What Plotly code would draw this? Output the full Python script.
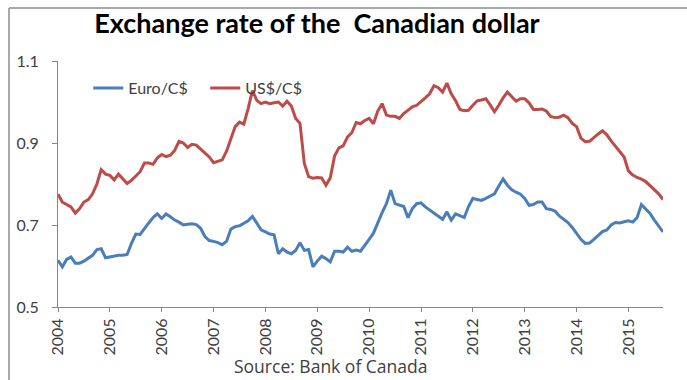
import plotly.graph_objects as go

# Monthly averages, January 2004 through September 2015
years = list(range(2004, 2016))
start_year = 2004

euro_per_cad = [
    # 2004
    0.614, 0.598, 0.616, 0.622, 0.607, 0.607, 0.612, 0.618, 0.626, 0.640, 0.642, 0.620,
    # 2005
    0.622, 0.624, 0.626, 0.626, 0.628, 0.655, 0.678, 0.677, 0.692, 0.705, 0.718, 0.727,
    # 2006
    0.716, 0.727, 0.720, 0.712, 0.707, 0.700, 0.702, 0.703, 0.701, 0.692, 0.672, 0.662,
    # 2007
    0.660, 0.657, 0.652, 0.660, 0.690, 0.696, 0.698, 0.703, 0.710, 0.721, 0.705, 0.688,
    # 2008
    0.683, 0.678, 0.676, 0.630, 0.642, 0.634, 0.630, 0.638, 0.657, 0.638, 0.640, 0.598,
    # 2009
    0.612, 0.624, 0.618, 0.610, 0.636, 0.636, 0.634, 0.646, 0.636, 0.639, 0.636, 0.652,
    # 2010
    0.665, 0.680, 0.706, 0.730, 0.752, 0.785, 0.752, 0.748, 0.745, 0.718, 0.740, 0.752,
    # 2011
    0.754, 0.744, 0.736, 0.729, 0.722, 0.714, 0.732, 0.712, 0.727, 0.722, 0.718, 0.745,
    # 2012
    0.765, 0.762, 0.760, 0.765, 0.770, 0.776, 0.795, 0.812, 0.797, 0.786, 0.780, 0.775,
    # 2013
    0.765, 0.748, 0.750, 0.756, 0.756, 0.740, 0.738, 0.734, 0.722, 0.714, 0.706, 0.694,
    # 2014
    0.680, 0.665, 0.655, 0.656, 0.665, 0.675, 0.684, 0.688, 0.700, 0.706, 0.705, 0.708,
    # 2015
    0.710, 0.707, 0.718, 0.750, 0.740, 0.728, 0.712, 0.697, 0.683,
]

usd_per_cad = [
    # 2004
    0.775, 0.756, 0.750, 0.744, 0.729, 0.740, 0.756, 0.762, 0.776, 0.800, 0.835, 0.824,
    # 2005
    0.821, 0.810, 0.824, 0.813, 0.801, 0.809, 0.820, 0.830, 0.851, 0.851, 0.848, 0.864,
    # 2006
    0.872, 0.867, 0.870, 0.882, 0.904, 0.900, 0.889, 0.897, 0.895, 0.886, 0.876, 0.866,
    # 2007
    0.852, 0.856, 0.859, 0.880, 0.910, 0.940, 0.951, 0.946, 0.984, 1.028, 1.004, 0.996,
    # 2008
    1.000, 0.996, 0.998, 1.000, 0.990, 1.002, 0.990, 0.960, 0.948, 0.850, 0.818, 0.814,
    # 2009
    0.816, 0.815, 0.797, 0.815, 0.868, 0.888, 0.893, 0.915, 0.925, 0.950, 0.947, 0.955,
    # 2010
    0.960, 0.947, 0.978, 0.996, 0.968, 0.965, 0.965, 0.960, 0.972, 0.981, 0.988, 0.992,
    # 2011
    1.000, 1.010, 1.020, 1.040, 1.035, 1.024, 1.046, 1.020, 1.003, 0.982, 0.979, 0.980,
    # 2012
    0.992, 1.003, 1.005, 1.008, 0.993, 0.976, 0.992, 1.010, 1.024, 1.012, 1.002, 1.008,
    # 2013
    1.008, 0.998, 0.982, 0.982, 0.983, 0.978, 0.965, 0.962, 0.963, 0.968, 0.962, 0.948,
    # 2014
    0.940, 0.912, 0.903, 0.904, 0.914, 0.922, 0.930, 0.920, 0.905, 0.891, 0.880, 0.866,
    # 2015
    0.832, 0.822, 0.816, 0.812, 0.806, 0.796, 0.788, 0.776, 0.762,
]

y_ticks = [0.5, 0.7, 0.9, 1.1]
y_tick_labels = ["0.5", "0.7", "0.9", "1.1"]

months = [start_year + i / 12 for i in range(len(usd_per_cad))]

FONT = "Lato"
TEXT_GREY = "#404040"
AXIS_GREY = "#868686"

fig = go.Figure()
fig.add_trace(go.Scatter(
    x=months, y=euro_per_cad, mode="lines", name="Euro/C$",
    line=dict(color="#4A7EBB", width=3),
))
fig.add_trace(go.Scatter(
    x=months, y=usd_per_cad, mode="lines", name="US$/C$",
    line=dict(color="#BE4B48", width=3),
))

fig.update_layout(
    width=687, height=380,
    margin=dict(l=58, r=24, t=61, b=73),
    paper_bgcolor="white", plot_bgcolor="white",
    font=dict(family=FONT, size=15, color=TEXT_GREY),
    title=dict(
        text="<b>Exchange rate of the\u00a0 Canadian dollar</b>",
        font=dict(family=FONT, size=27, color="black"),
        x=317 / 687, xanchor="center", xref="container",
        y=1 - 24 / 380, yanchor="middle", yref="container",
    ),
    showlegend=True,
    legend=dict(
        orientation="h", x=0.05, xanchor="left", y=(307 - 88) / 246, yanchor="middle",
        bgcolor="rgba(0,0,0,0)", font=dict(family=FONT, size=16, color=TEXT_GREY),
        entrywidth=72, entrywidthmode="pixels",
    ),
    xaxis=dict(
        range=[start_year, start_year + (len(usd_per_cad) - 1) / 12],
        tickvals=years, ticktext=[str(y) for y in years], tickangle=-90,
        ticks="outside", ticklen=4, tickcolor=AXIS_GREY,
        showline=True, linecolor=AXIS_GREY, linewidth=1,
        showgrid=False, zeroline=False,
        tickfont=dict(family=FONT, size=16, color=TEXT_GREY),
    ),
    yaxis=dict(
        range=[0.5, 1.1], tickvals=y_ticks, ticktext=y_tick_labels,
        ticks="outside", ticklen=5, tickcolor=AXIS_GREY,
        showline=True, linecolor=AXIS_GREY, linewidth=1,
        showgrid=False, zeroline=False, ticklabelstandoff=10,
        tickfont=dict(family=FONT, size=16, color=TEXT_GREY),
    ),
)

# Chart frame (top and left edges)
frame_color = "#8C8C8C"
fig.add_shape(type="line", xref="paper", yref="paper",
              x0=(9 - 58) / 605, x1=(687 - 58) / 605, y0=(307 - 8) / 246, y1=(307 - 8) / 246,
              line=dict(color=frame_color, width=1.5))
fig.add_shape(type="line", xref="paper", yref="paper",
              x0=(9 - 58) / 605, x1=(9 - 58) / 605, y0=(307 - 8) / 246, y1=(307 - 380) / 246,
              line=dict(color=frame_color, width=1.5))

fig.add_annotation(
    text="Source: Bank of Canada", showarrow=False,
    xref="paper", yref="paper", x=(330 - 58) / 605, y=(307 - 366) / 246,
    xanchor="center", yanchor="middle",
    font=dict(family="Open Sans", size=17.5, color=TEXT_GREY),
)

fig.write_html("out.html")
